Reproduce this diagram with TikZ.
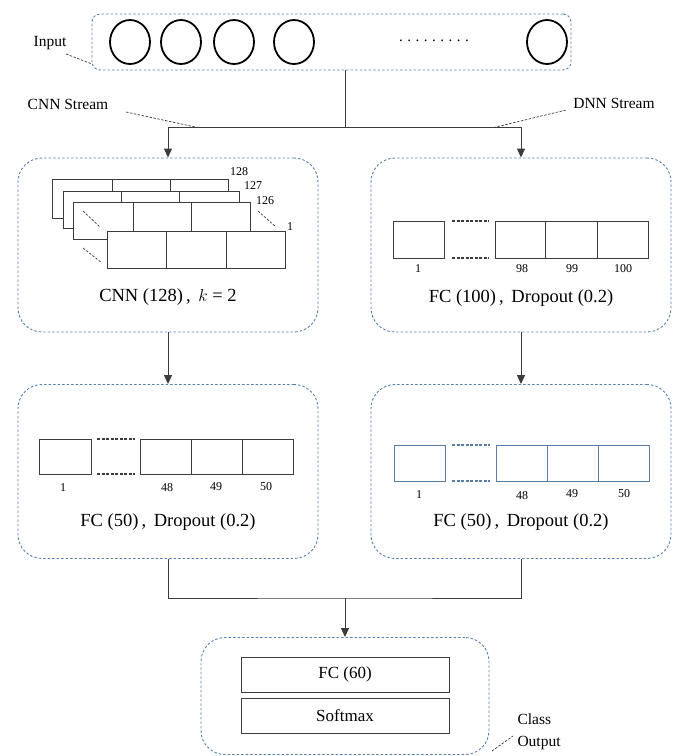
\documentclass[tikz,border=0pt]{standalone}
\usepackage{fontspec}
\setmainfont{Liberation Serif}
\usetikzlibrary{arrows.meta,shapes.geometric}
\definecolor{boxblue}{RGB}{88,128,178}
\definecolor{cellblue}{RGB}{90,125,165}
\definecolor{linegray}{RGB}{60,60,60}
\tikzset{
  container/.style={draw=boxblue, dashed, dash pattern=on 2.5pt off 2pt, line width=0.9pt, rounded corners=24pt, minimum width=300pt, minimum height=174pt, inner sep=0pt},
  flow/.style={draw=linegray, line width=0.9pt},
  flowarrow/.style={flow, -{Triangle[length=9pt,width=8pt]}},
  leader/.style={draw=linegray, dashed, dash pattern=on 2.5pt off 1.5pt, line width=0.7pt},
  cell/.style={draw=linegray, line width=0.9pt, fill=white},
  celldash/.style={draw=linegray, dashed, dash pattern=on 3pt off 1.5pt, line width=1.1pt},
  neuron/.style={draw=black, line width=1.8pt, ellipse, minimum width=40pt, minimum height=44pt, inner sep=0pt},
  title/.style={font=\fontsize{18.5}{20}\selectfont},
  lab/.style={font=\fontsize{15.5}{17}\selectfont},
  num/.style={font=\fontsize{12}{13}\selectfont},
}
\begin{document}
\begin{tikzpicture}[x=1pt,y=-1pt]
\useasboundingbox (0,0) rectangle (682,756);

% ---------- containers ----------
\node[container, rounded corners=8pt, minimum width=479pt, minimum height=56pt] (inbox) at (331.5,42) {};
\node[container] (cnnbox) at (168,245) {};
\node[container] (dnnbox) at (521,245) {};
\node[container] (fcl) at (168,471.5) {};
\node[container] (fcr) at (521,471.5) {};
\node[container, minimum width=288pt, minimum height=117pt] (outbox) at (345,696) {};

% ---------- input ----------
\node[neuron] (n1) at (130,42) {};
\node[neuron] (n2) at (181,42) {};
\node[neuron] (n3) at (234,42) {};
\node[neuron] (n4) at (294,42) {};
\node[neuron] (n5) at (547,42) {};
\node[font=\fontsize{15}{17}\selectfont] (dots) at (434,41) {.\hspace{4.5pt}.\hspace{4.5pt}.\hspace{4.5pt}.\hspace{4.5pt}.\hspace{4.5pt}.\hspace{4.5pt}.\hspace{4.5pt}.\hspace{4.5pt}.};
\node[lab] (inlab) at (50,43) {Input};
\coordinate (inleadA) at (66,54);
\coordinate (inleadB) at (92,64);
\draw[leader] (inleadA) -- (inleadB);

% ---------- split ----------
\coordinate (top) at (345,70);
\coordinate (split) at (345,127);
\draw[flow] (top) -- (split);
\draw[flowarrow] (split) -| (cnnbox.north);
\draw[flowarrow] (split) -| (dnnbox.north);
\node[lab] (cnnlab) at (68,104) {CNN Stream};
\node[lab] (dnnlab) at (614,103) {DNN Stream};
\coordinate (cl1) at (126,112);
\coordinate (cl2) at (200,128);
\coordinate (dl1) at (566,110);
\coordinate (dl2) at (492,128);
\draw[leader] (cl1) -- (cl2);
\draw[leader] (dl1) -- (dl2);

% ---------- CNN layers ----------
\draw[cell] (52,179) rectangle (228,218);
\draw[flow] (112,179) -- (112,218) (170,179) -- (170,218);
\draw[cell] (63,191) rectangle (239,228);
\draw[flow] (121,191) -- (121,228) (179,191) -- (179,228);
\draw[cell] (73,202) rectangle (250,239);
\draw[flow] (133,202) -- (133,239) (191,202) -- (191,239);
\draw[cell] (107,231) rectangle (285,268);
\draw[flow] (166,231) -- (166,268) (226,231) -- (226,268);
\draw[leader] (83,211) -- (100,227);
\draw[leader] (83,248) -- (102,263);
\draw[leader] (258,211) -- (276,227);
\node[num] (l128) at (239,172) {128};
\node[num] (l127) at (253,186) {127};
\node[num] (l126) at (265,201) {126};
\node[num] (l1) at (290,227) {1};
\node[title] (cnntitle) at (168,297) {CNN (128)\,,\, $k$ = 2};

% ---------- DNN FC(100) ----------
\draw[cell] (393,221) rectangle (444,258);
\draw[celldash] (452,221) -- (489,221) (452,258) -- (489,258);
\draw[cell] (495,221) rectangle (648,258);
\draw[flow] (545,221) -- (545,258) (597,221) -- (597,258);
\node[num] (d1) at (418,269) {1};
\node[num] (d98) at (522,269) {98};
\node[num] (d99) at (572,269) {99};
\node[num] (d100) at (623,269) {100};
\node[title] (dnntitle) at (521,298) {FC (100)\,,\, Dropout (0.2)};

% ---------- arrows to row 2 ----------
\draw[flowarrow] (cnnbox.south) -- (fcl.north);
\draw[flowarrow] (dnnbox.south) -- (fcr.north);

% ---------- left FC(50) ----------
\draw[cell] (39,439) rectangle (91,474);
\draw[celldash] (97,439) -- (135,439) (97,474) -- (135,474);
\draw[cell] (140,439) rectangle (293,474);
\draw[flow] (191,439) -- (191,474) (242,439) -- (242,474);
\node[num] (a1) at (63,488) {1};
\node[num] (a48) at (167,488) {48};
\node[num] (a49) at (216,487) {49};
\node[num] (a50) at (266,487) {50};
\node[title] (fcltitle) at (168,522) {FC (50)\,,\, Dropout (0.2)};

% ---------- right FC(50) ----------
\draw[cell, draw=cellblue] (394,445) rectangle (445,481);
\draw[celldash, draw=cellblue] (452,445) -- (490,445) (452,481) -- (490,481);
\draw[cell, draw=cellblue] (496,445) rectangle (649,481);
\draw[flow, draw=cellblue] (547,445) -- (547,481) (598,445) -- (598,481);
\node[num] (b1) at (419,495) {1};
\node[num] (b48) at (522,496) {48};
\node[num] (b49) at (572,494) {49};
\node[num] (b50) at (624,494) {50};
\node[title] (fcrtitle) at (521,522) {FC (50)\,,\, Dropout (0.2)};

% ---------- merge ----------
\coordinate (merge) at (345,598);
\draw[flow] (fcl.south) |- (merge) -| (fcr.south);
\draw[flowarrow] (merge) -- (outbox.north);

% ---------- output ----------
\node[draw=linegray, line width=0.9pt, minimum width=208pt, minimum height=35pt, inner sep=0pt, font=\fontsize{17}{19}\selectfont] (fc60) at (345,674.5) {FC (60)};
\node[draw=linegray, line width=0.9pt, minimum width=208pt, minimum height=35pt, inner sep=0pt, font=\fontsize{17}{19}\selectfont] (soft) at (345,715.5) {Softmax};
\node[lab, anchor=west] (cls) at (514,719) {Class};
\node[lab, anchor=west] (outp) at (514,743) {Output};
\coordinate (ol1) at (492,751);
\coordinate (ol2) at (513,736);
\draw[leader] (ol1) -- (ol2);
\end{tikzpicture}
\end{document}
